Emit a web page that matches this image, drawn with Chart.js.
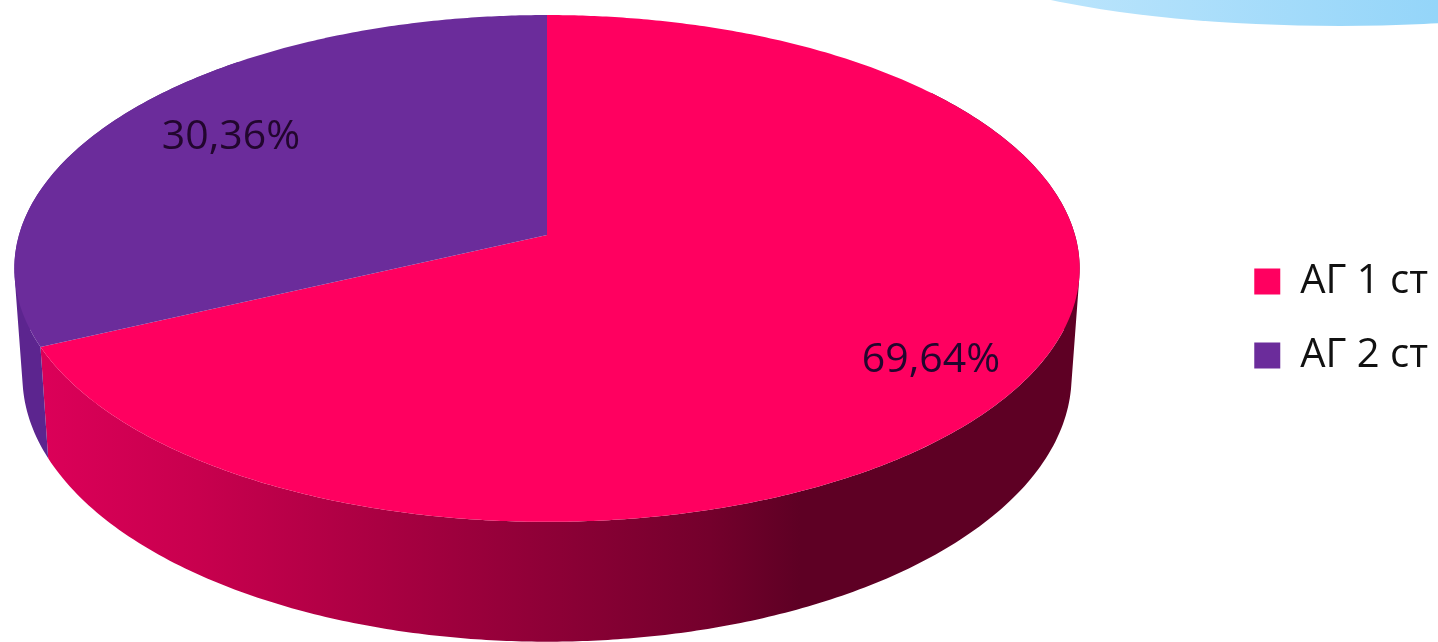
<!DOCTYPE html>
<html>
<head>
<meta charset="utf-8">
<style>
  html, body { margin: 0; padding: 0; background: #fff; overflow: hidden; }
  canvas { display: block; }
</style>
<script src="https://cdn.jsdelivr.net/npm/chart.js@4"></script>
</head>
<body>
<canvas id="chart" width="1438" height="642"></canvas>
<script>
const categories = ['АГ 1 ст', 'АГ 2 ст'];
const shares = [69.64, 30.36];
const sliceColors = ['#FF0060', '#6B2C9B'];
const valueLabels = ['69,64%', '30,36%'];

// Perspective disc: the top face and the lower rim share one projection.
const TOP_RIM = { cx: 547, cy: 235, a: 528, b: 249 };
const LOW_RIM = { cx: 547, cy: 341, a: 520, b: 261 };
const TILT = -0.132;
const FORESHORTEN = -9.3 * Math.PI / 180;

function project(rim, angle, radius) {
  // angle is Chart.js radians; zero clockwise offset sits at twelve o'clock
  const t = angle + Math.PI / 2;
  const w = t + FORESHORTEN * Math.sin(2 * t);
  const u = radius * Math.sin(w);
  const v = -radius * Math.cos(w);
  const d = 1 + TILT * v;
  return { x: rim.cx + rim.a * u / d, y: rim.cy + rim.b * v / d };
}

function traceRim(ctx, rim, from, to) {
  const steps = Math.max(8, Math.ceil(Math.abs(to - from) * 80));
  for (let i = 0; i <= steps; i++) {
    const p = project(rim, from + (to - from) * i / steps, 1);
    ctx.lineTo(p.x, p.y);
  }
}

// Adds the wall between two rims as small quads of one winding, so the
// outline includes the straight tangent edges on the far left and right.
function traceWall(ctx, from, to) {
  const steps = Math.ceil(Math.abs(to - from) * 80);
  for (let i = 0; i < steps; i++) {
    const a0 = from + (to - from) * i / steps;
    const a1 = from + (to - from) * (i + 1) / steps;
    let quad = [project(TOP_RIM, a0, 1), project(TOP_RIM, a1, 1), project(LOW_RIM, a1, 1), project(LOW_RIM, a0, 1)];
    let area = 0;
    quad.forEach((p, k) => {
      const q = quad[(k + 1) % 4];
      area += p.x * q.y - q.x * p.y;
    });
    if (area < 0) quad = quad.reverse();
    ctx.moveTo(quad[0].x, quad[0].y);
    for (let k = 1; k < 4; k++) ctx.lineTo(quad[k].x, quad[k].y);
    ctx.closePath();
  }
}

class PerspectiveArc extends Chart.ArcElement {
  draw(ctx) {
    const { startAngle, endAngle } = this.getProps(['startAngle', 'endAngle']);
    const o = project(TOP_RIM, startAngle, 0);
    ctx.save();
    ctx.beginPath();
    ctx.moveTo(o.x, o.y);
    traceRim(ctx, TOP_RIM, startAngle, endAngle);
    ctx.closePath();
    ctx.fillStyle = this.options.backgroundColor;
    ctx.fill();
    ctx.restore();
  }
}
PerspectiveArc.id = 'perspectiveArc';
PerspectiveArc.defaults = Chart.ArcElement.defaults;
PerspectiveArc.defaultRoutes = Chart.ArcElement.defaultRoutes;
PerspectiveArc.descriptors = Chart.ArcElement.descriptors;

class PerspectivePie extends Chart.PieController {}
PerspectivePie.id = 'perspectivePie';
PerspectivePie.defaults = Object.assign({}, Chart.PieController.defaults, { dataElementType: 'perspectiveArc' });
PerspectivePie.overrides = Chart.PieController.overrides;
PerspectivePie.descriptors = Chart.PieController.descriptors;

Chart.register(PerspectiveArc, PerspectivePie);

// Side wall of the disc, shaded from left to right.
const wallPlugin = {
  id: 'wall',
  beforeDatasetsDraw(chart) {
    const ctx = chart.ctx;
    const arcs = chart.getDatasetMeta(0).data;
    const shade = ctx.createLinearGradient(47, 0, 800, 0);
    shade.addColorStop(0, '#DB0058');
    shade.addColorStop(0.2, '#C8004E');
    shade.addColorStop(0.6, '#96003A');
    shade.addColorStop(0.88, '#74002C');
    shade.addColorStop(1, '#5E0024');
    const walls = [
      { from: -Math.PI / 6, to: arcs[0].endAngle, fill: shade },
      { from: arcs[1].startAngle, to: arcs[1].startAngle + Math.PI / 3, fill: '#5C258F' }
    ];
    ctx.save();
    for (const wall of walls) {
      ctx.beginPath();
      traceWall(ctx, wall.from, wall.to);
      ctx.fillStyle = wall.fill;
      ctx.fill();
    }
    ctx.restore();
  }
};

// Pale blue slide decoration in the upper right corner.
const cornerPlugin = {
  id: 'corner',
  beforeDraw(chart) {
    const ctx = chart.ctx;
    const g = ctx.createLinearGradient(1040, 0, 1438, 0);
    g.addColorStop(0, '#BCE5FC');
    g.addColorStop(1, '#94D5F9');
    ctx.save();
    ctx.beginPath();
    ctx.ellipse(1340, -74, 430, 100, 0, 0, Math.PI * 2);
    ctx.fillStyle = g;
    ctx.fill();
    ctx.restore();
  }
};

// Percent labels sitting on the top face.
const labelPlugin = {
  id: 'valueLabels',
  afterDatasetsDraw(chart, args, opts) {
    const ctx = chart.ctx;
    ctx.save();
    ctx.font = opts.font;
    ctx.fillStyle = opts.color;
    ctx.textAlign = 'center';
    ctx.textBaseline = 'middle';
    valueLabels.forEach((text, i) => ctx.fillText(text, opts.anchors[i].x, opts.anchors[i].y));
    ctx.restore();
  }
};

new Chart(document.getElementById('chart'), {
  type: 'perspectivePie',
  data: {
    labels: categories,
    datasets: [{ data: shares, backgroundColor: sliceColors, borderWidth: 0 }]
  },
  plugins: [cornerPlugin, wallPlugin, labelPlugin],
  options: {
    responsive: false,
    animation: false,
    layout: { padding: { bottom: 5 } },
    plugins: {
      tooltip: { enabled: false },
      legend: {
        position: 'right',
        labels: {
          font: { family: '"Open Sans"', size: 40 },
          color: '#111',
          boxWidth: 26,
          boxHeight: 26,
          padding: 34
        }
      },
      valueLabels: {
        font: '41px "Open Sans"',
        color: '#22062E',
        anchors: [{ x: 931, y: 360 }, { x: 231, y: 137 }]
      }
    }
  }
});
</script>
</body>
</html>
